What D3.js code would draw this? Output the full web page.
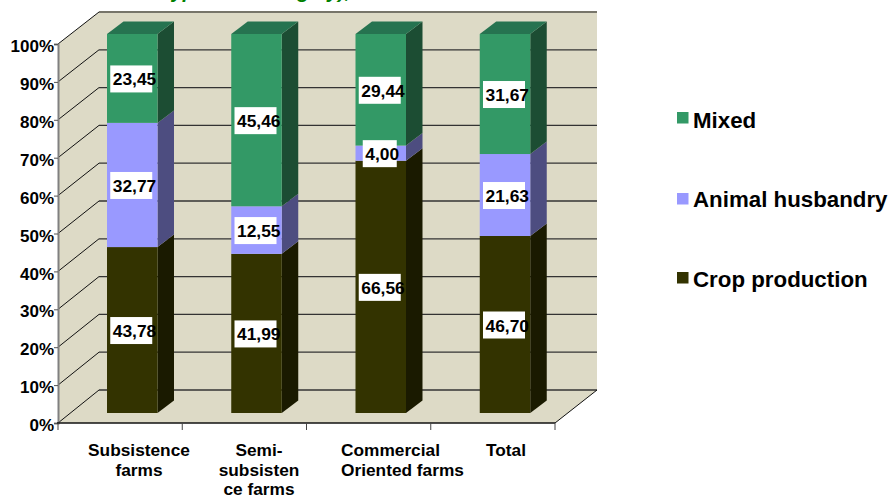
<!DOCTYPE html>
<html><head><meta charset="utf-8">
<script src="https://cdn.jsdelivr.net/npm/d3@7"></script>
<style>html,body{margin:0;padding:0;background:#fff;overflow:hidden}svg{display:block}text{font-family:"Liberation Sans",Arial,sans-serif;font-weight:bold}</style>
</head><body><svg id="c" width="891" height="496"></svg>
<script>
const categories=["Subsistence farms","Semi-subsisten ce farms","Commercial Oriented farms","Total"];
const cropProduction=[43.78,41.99,66.56,46.70];
const animalHusbandry=[32.77,12.55,4.00,21.63];
const mixed=[23.45,45.46,29.44,31.67];
const yTicks=[0,10,20,30,40,50,60,70,80,90,100];
const categoryLines=[["Subsistence","farms"],["Semi-","subsisten","ce farms"],["Commercial","Oriented farms"],["Total"]];
const labelX=[139,259,341,506];
const labelAnchor=["middle","middle","start","middle"];
const seriesNames=["crop","animal","mixed"];
const legendNames=["Mixed","Animal husbandry","Crop production"];
const legendSwatchY=[112,193,272];
const legendTextY=[128,207,287];
const colors={crop:["#333300","#1A1A00","#262600"],animal:["#9999FF","#4D4D80","#7373BF"],mixed:["#339966","#1C4D33","#267350"]};

const svg=d3.select("#c");
const rows=categories.map((c,i)=>({c,crop:cropProduction[i],animal:animalHusbandry[i],mixed:mixed[i]}));
const stack=d3.stack().keys(seriesNames)(rows);
const x=d3.scaleBand().domain(categories).range([58,555]);
const yFront=d3.scaleLinear().domain([0,100]).range([423,44]);
const yBack=d3.scaleLinear().domain([0,100]).range([390,12]);
const yBar=d3.scaleLinear().domain([0,100]).range([413,34]);
const wallDx=41,barW=50.5,barOff=49,dx=16.5,dy=12.5;
const poly=p=>p.map(q=>q.join(",")).join(" ");
const wall="#DDDAC6";

// title, cut off by the top edge of the picture
svg.append("text").attr("x",165).attr("y",-2).attr("font-size",20).attr("font-style","italic")
  .attr("fill","#008000").text("type of farming by),");

// walls and floor
svg.append("polygon").attr("fill",wall).attr("points",poly([[58,yFront(100)],[58+wallDx,yBack(100)],[597,yBack(100)],[597,yBack(0)],[555,yFront(0)],[58,yFront(0)]]));

// gridlines
yTicks.forEach(t=>{
  svg.append("line").attr("x1",58).attr("y1",yFront(t)).attr("x2",58+wallDx).attr("y2",yBack(t)).attr("stroke","#111").attr("stroke-width",1);
  svg.append("line").attr("x1",58+wallDx).attr("y1",yBack(t)).attr("x2",597).attr("y2",yBack(t)).attr("stroke",t==100?"#77756A":"#333").attr("stroke-width",t==100?2:1.3);
});
svg.append("line").attr("x1",555).attr("y1",yFront(0)).attr("x2",597).attr("y2",yBack(0)).attr("stroke","#111");

// bars
stack.forEach(s=>{
  const col=colors[s.key];
  const g=svg.append("g");
  s.forEach((d,i)=>{
    const x0=x(categories[i])+barOff,x1=x0+barW,yt=yBar(d[1]),yb=yBar(d[0]);
    g.append("polygon").attr("fill",col[1]).attr("points",poly([[x1,yt],[x1+dx,yt-dy],[x1+dx,yb-dy],[x1,yb]]));
    g.append("rect").attr("x",x0).attr("y",yt).attr("width",barW).attr("height",yb-yt).attr("fill",col[0]);
    if(s.key==="mixed") g.append("polygon").attr("fill",col[2]).attr("points",poly([[x0,yt],[x0+dx,yt-dy],[x1+dx,yt-dy],[x1,yt]]));
  });
});

// data labels
stack.forEach(s=>{
  s.forEach((d,i)=>{
    const v=d[1]-d[0],cx=x(categories[i])+barOff+barW/2-1,cy=yBar((d[0]+d[1])/2)+.5;
    const txt=v.toFixed(2).replace(".",",");
    const w=txt.length>4?42:34;
    svg.append("rect").attr("x",cx-w/2).attr("y",cy-13.5).attr("width",w).attr("height",27).attr("fill","#fff");
    svg.append("text").attr("x",cx-w/2+2.5).attr("y",cy+6.5).attr("font-size",17.4).attr("fill","#000").text(txt);
  });
});

// axes
const ya=svg.append("g").attr("transform","translate(58,0)").call(d3.axisLeft(yFront).tickValues(yTicks).tickSize(4).tickPadding(0).tickFormat(d=>d+"%"));
ya.select(".domain").attr("stroke","#808080").attr("stroke-width",2);
ya.selectAll(".tick line").attr("stroke","#555");
ya.selectAll("text").attr("font-size",17).attr("fill","#000").attr("font-family",null).attr("dy","0.45em");
svg.append("line").attr("x1",57).attr("y1",423).attr("x2",555).attr("y2",423).attr("stroke","#111").attr("stroke-width",1.4);
categories.concat([null]).forEach((c,i)=>{
  const tx=c?x(c):x.range()[1];
  svg.append("line").attr("x1",tx).attr("y1",423).attr("x2",tx).attr("y2",430).attr("stroke","#444").attr("stroke-width",1);
});
categoryLines.forEach((ls,i)=>{
  ls.forEach((l,j)=>{
    svg.append("text").attr("x",labelX[i]).attr("y",456+j*19.5).attr("text-anchor",labelAnchor[i]).attr("font-size",17.3).attr("fill","#000").text(l);
  });
});

// legend
legendNames.forEach((n,i)=>{
  const k=["mixed","animal","crop"][i];
  svg.append("rect").attr("x",677).attr("y",legendSwatchY[i]).attr("width",11.5).attr("height",11.5).attr("fill",colors[k][0]);
  svg.append("text").attr("x",693).attr("y",legendTextY[i]).attr("font-size",22.3).attr("fill","#000").text(n);
});
</script></body></html>
